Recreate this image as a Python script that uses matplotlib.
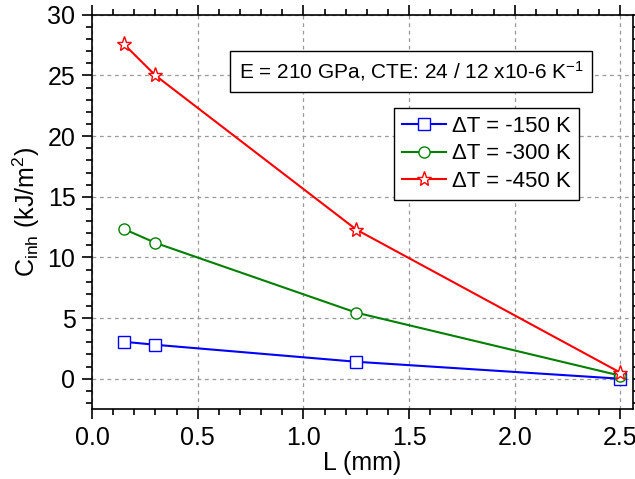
import matplotlib.pyplot as plt
from matplotlib.ticker import MultipleLocator

plt.rcParams['font.family'] = ['Liberation Sans', 'DejaVu Sans']
plt.rcParams['mathtext.fontset'] = 'custom'
plt.rcParams['mathtext.rm'] = 'Liberation Sans'
plt.rcParams['mathtext.it'] = 'Liberation Sans'

# Data
L = [0.15, 0.3, 1.25, 2.5]
c_150 = [3.05, 2.8, 1.4, 0.0]
c_300 = [12.35, 11.2, 5.45, 0.25]
c_450 = [27.6, 25.0, 12.3, 0.5]
labels = ["\u0394T = -150 K", "\u0394T = -300 K", "\u0394T = -450 K"]
colors = ["#0000ff", "#008000", "#ff0000"]
markers = ["s", "o", "*"]

fig = plt.figure(figsize=(6.35, 4.79), dpi=100)
ax = fig.add_axes([0.145, 0.146, 0.852, 0.823])

for y, lab, c, m in zip([c_150, c_300, c_450], labels, colors, markers):
    ms = 11 if m == "*" else 8
    ax.plot(L, y, color=c, lw=1.5, marker=m, markersize=ms,
            markerfacecolor="white", markeredgecolor=c, markeredgewidth=1.0,
            label=lab)

ax.set_xlim(0, 2.56)
ax.set_ylim(-2.5, 30)
ax.xaxis.set_major_locator(MultipleLocator(0.5))
ax.xaxis.set_minor_locator(MultipleLocator(0.1))
ax.yaxis.set_major_locator(MultipleLocator(5))
ax.yaxis.set_minor_locator(MultipleLocator(1))
ax.xaxis.set_major_formatter(plt.FormatStrFormatter('%.1f'))
ax.tick_params(which='both', direction='out', top=True, right=True,
               labeltop=False, labelright=False, labelsize=18, width=1.2)
ax.tick_params(which='major', length=7, pad=5)
ax.tick_params(which='minor', length=4)
for s in ax.spines.values():
    s.set_linewidth(1.2)

ax.grid(True, which='major', ls=(0, (3, 3)), color='#999999', lw=0.9)

ax.set_xlabel("L (mm)", fontsize=18, labelpad=1)
ax.set_ylabel(r"C$_{\rm inh}$ (kJ/m$^{2}$)", fontsize=18, labelpad=4)

ax.text(1.51, 25.35, r"E = 210 GPa, CTE: 24 / 12 x10-6 K$^{-1}$", fontsize=15,
        va='center', ha='center',
        bbox=dict(boxstyle='square,pad=0.42', fc='white', ec='black', lw=1.0))

leg = ax.legend(loc='upper left', bbox_to_anchor=(0.558, 0.764), fontsize=16,
                frameon=True, fancybox=False, framealpha=1, edgecolor='black',
                handlelength=2.0, handletextpad=0.27, borderpad=0.35,
                labelspacing=0.3, borderaxespad=0)
leg.get_frame().set_linewidth(1.0)

fig.savefig("out.png", dpi=100)
